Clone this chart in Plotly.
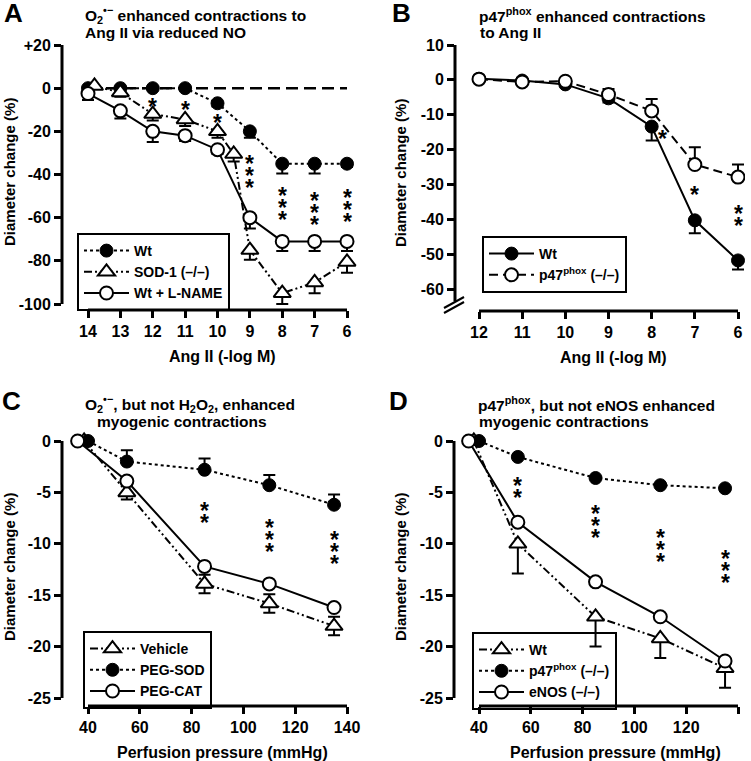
import plotly.graph_objects as go

W, H = 751, 761
FONT = "Liberation Sans, Arial, sans-serif"

# ---------------- data ----------------
# A: Ang II dose response, Wt / SOD-1 (-/-) / Wt + L-NAME
a_x = [14, 13, 12, 11, 10, 9, 8, 7, 6]
a_wt = [0, 0, 0, 0, -7, -20, -35, -35, -35]
a_wt_err = [0, 0, 0, 0, 1.5, 3, 4.5, 4.5, 1.5]
a_sod_x = [13.8, 13, 12, 11, 10, 9.5, 9, 8, 7, 6]
a_sod = [1, -2, -12, -14.5, -20, -30.5, -75, -95, -90, -80.5]
a_sod_err = [0, 2, 3, 3, 3, 3.5, 4.5, 5, 5, 5]
a_lname = [-2.5, -10.5, -20, -22, -28.5, -60, -71, -71, -71]
a_lname_err = [3, 3.5, 5, 2.5, 2, 5, 4.5, 4.5, 4.5]
a_star_x = [12, 11, 10, 9, 8, 7, 6]
a_star_y = [-6, -7.4, -13.3, -32.2, -47.4, -49.7, -48.3]
a_star_n = [1, 1, 1, 3, 3, 3, 3]
a_yticks = [20, 0, -20, -40, -60, -80, -100]
a_ytext = ["+20", "0", "-20", "-40", "-60", "-80", "-100"]

# B: Ang II dose response, Wt / p47phox (-/-)
b_x = [12, 11, 10, 9, 8, 7, 6]
b_wt = [0.3, -0.2, -1.3, -5.3, -13.4, -40.3, -51.8]
b_wt_err = [0, 0, 0, 1.2, 4, 3.7, 2.6]
b_p47 = [0.2, -0.6, -0.4, -4.2, -8.9, -24.3, -27.9]
b_p47_err = [0, 0.6, 0, 1.6, 3.4, 5, 3.6]
b_star_x = [7.75, 7, 6]
b_star_y = [-15.2, -31.3, -36.8]
b_star_n = [1, 1, 2]
b_yticks = [10, 0, -10, -20, -30, -40, -50, -60]
b_ytext = ["10", "0", "-10", "-20", "-30", "-40", "-50", "-60"]

# C: myogenic, Vehicle / PEG-SOD / PEG-CAT
c_veh_x = [38.5, 55, 85, 110, 135]
c_veh = [0, -5.0, -13.9, -15.8, -18.0]
c_veh_err = [0, 0.7, 0.9, 0.9, 0.9]
c_sod_x = [40, 55, 85, 110, 135]
c_sod = [0, -2.0, -2.8, -4.3, -6.2]
c_sod_err = [0, 1.1, 1.1, 1.0, 1.0]
c_cat_x = [36, 55, 85, 110, 135]
c_cat = [0, -3.9, -12.2, -13.9, -16.2]
c_star_x = [85, 110, 135]
c_star_y = [-6.2, -7.9, -9.0]
c_star_n = [2, 3, 3]

# D: myogenic, Wt / p47phox (-/-) / eNOS (-/-)
d_wt_x = [38, 55, 85, 110, 135]
d_wt = [0, -10.0, -17.1, -19.2, -22.1]
d_wt_err = [0, 2.9, 2.9, 1.9, 1.9]
d_p47_x = [40, 55, 85, 110, 135]
d_p47 = [0, -1.55, -3.6, -4.3, -4.6]
d_enos_x = [36, 55, 85, 110, 135]
d_enos = [0, -7.9, -13.7, -17.1, -21.4]
d_star_x = [55, 85, 110, 135]
d_star_y = [-3.8, -6.5, -8.9, -10.9]
d_star_n = [2, 3, 3, 3]

p_xticks = [40, 60, 80, 100, 120, 140]
p_yticks = [0, -5, -10, -15, -20, -25]
p_ytext = ["0", "-5", "-10", "-15", "-20", "-25"]


# ---------------- helpers ----------------
def fx(p):
    return p / W


def fy(p):
    return 1 - p / H


def lin(va, pa, vb, pb, p):
    return va + (p - pa) * (vb - va) / (pb - pa)


FILLED = dict(symbol="circle", size=13, color="black", line=dict(color="black", width=1))
OPEN = dict(symbol="circle", size=13, color="white", line=dict(color="black", width=2))
TRI = dict(symbol="triangle-up", size=15, color="white", line=dict(color="black", width=2))
DOT = "3px,3px"
DASH = "9px,5px"
DDOT = "8px,3px,2px,3px,2px,3px"

fig = go.Figure()


def series(x, y, name, legend, n, marker, dash, up=None, down=None):
    zeros = [0] * len(y)
    err = None
    if up or down:
        err = dict(type="data", symmetric=False, array=up or zeros,
                   arrayminus=down or zeros, color="black", thickness=2, width=6)
    fig.add_trace(go.Scatter(
        x=x, y=y, name=name, legend=legend, mode="lines+markers",
        xaxis="x" + n, yaxis="y" + n, marker=marker,
        line=dict(color="black", width=2, dash=dash), error_y=err))


def stars(xs, ys, ns, n):
    for x, y, k in zip(xs, ys, ns):
        for i in range(k):
            fig.add_annotation(x=x, y=y, xref="x" + n, yref="y" + n, text="*",
                               showarrow=False, font=dict(size=23),
                               yshift=-6 - 12 * i)


# A
series(a_x, a_wt, "Wt", "legend", "", FILLED, DOT, down=a_wt_err)
series(a_sod_x, a_sod, "SOD-1 (–/–)", "legend", "", TRI, DDOT, down=a_sod_err)
series(a_x, a_lname, "Wt + L-NAME", "legend", "", OPEN, "solid", down=a_lname_err)
stars(a_star_x, a_star_y, a_star_n, "")

# B
series(b_x, b_wt, "Wt", "legend2", "2", FILLED, "solid", down=b_wt_err)
series(b_x, b_p47, "p47<sup>phox</sup> (–/–)", "legend2", "2", OPEN, DASH, up=b_p47_err)
stars(b_star_x, b_star_y, b_star_n, "2")

# C
series(c_veh_x, c_veh, "Vehicle", "legend3", "3", TRI, DDOT, up=c_veh_err, down=c_veh_err)
series(c_sod_x, c_sod, "PEG-SOD", "legend3", "3", FILLED, DOT, up=c_sod_err)
series(c_cat_x, c_cat, "PEG-CAT", "legend3", "3", OPEN, "solid")
stars(c_star_x, c_star_y, c_star_n, "3")

# D
series(d_wt_x, d_wt, "Wt", "legend4", "4", TRI, DDOT, down=d_wt_err)
series(d_p47_x, d_p47, "p47<sup>phox</sup> (–/–)", "legend4", "4", FILLED, DOT)
series(d_enos_x, d_enos, "eNOS (–/–)", "legend4", "4", OPEN, "solid")
stars(d_star_x, d_star_y, d_star_n, "4")

# ---------------- axes ----------------
axis_common = dict(ticks="outside", ticklen=7, tickwidth=3, tickcolor="black",
                   showline=False, showgrid=False, zeroline=False, automargin=False,
                   tickfont=dict(size=16, color="black"))

# pixel frames: (x-left, x-right, y-top, y-bottom) and calibration points
panels = {
    "": dict(px=(62, 360), py=(38, 310), cx=(14, 88, 6, 347), cy=(20, 45, -100, 304),
             xt=a_x, yt=a_yticks, ytt=a_ytext),
    "2": dict(px=(455, 745), py=(38, 311), cx=(12, 479, 6, 738), cy=(10, 45, -60, 289),
              xt=b_x, yt=b_yticks, ytt=b_ytext),
    "3": dict(px=(62, 360), py=(430, 706), cx=(40, 88, 140, 347), cy=(0, 441, -25, 698),
              xt=p_xticks, yt=p_yticks, ytt=p_ytext),
    "4": dict(px=(454, 745), py=(430, 706), cx=(40, 479, 140, 738), cy=(0, 441, -25, 698),
              xt=p_xticks, yt=p_yticks, ytt=p_ytext),
}

layout_axes = {}
for n, p in panels.items():
    xr = [lin(*p["cx"], p["px"][0]), lin(*p["cx"], p["px"][1])]
    yr = [lin(*p["cy"], p["py"][1]), lin(*p["cy"], p["py"][0])]
    layout_axes["xaxis" + n] = dict(axis_common, domain=[fx(p["px"][0]), fx(p["px"][1])],
                                    range=xr, anchor="y" + n, tickvals=p["xt"])
    layout_axes["yaxis" + n] = dict(axis_common, domain=[fy(p["py"][1]), fy(p["py"][0])],
                                    range=yr, anchor="x" + n, tickvals=p["yt"],
                                    ticktext=p["ytt"])
    # axis lines spanning only the tick range
    fig.add_shape(type="line", xref="x" + n + " domain", yref="y" + n,
                  x0=0, x1=0, y0=p["yt"][0], y1=(-63.5 if n == "2" else p["yt"][-1]),
                  line=dict(color="black", width=3))
    fig.add_shape(type="line", xref="x" + n, yref="y" + n + " domain",
                  x0=p["xt"][0], x1=p["xt"][-1], y0=0, y1=0,
                  line=dict(color="black", width=3))

# zero reference line in A
fig.add_shape(type="line", xref="x", yref="y", x0=14, x1=6, y0=0, y1=0, layer="below",
              line=dict(color="black", width=2.5, dash="12px,6px"))

# axis break marks in B
for dy in (0, 5):
    fig.add_shape(type="line", xref="paper", yref="paper",
                  x0=fx(444), x1=fx(464), y0=fy(313 - dy), y1=fy(302 - dy),
                  line=dict(color="black", width=2))


# ---------------- text ----------------
def text(x, y, s, size=15.5, anchor="left", angle=0):
    fig.add_annotation(x=fx(x), y=fy(y), xref="paper", yref="paper", text=s,
                       showarrow=False, xanchor=anchor, yanchor="middle",
                       textangle=angle, font=dict(size=size))


text(2, 13, "A", 26)
text(390, 13, "B", 26)
text(0, 401, "C", 26)
text(387, 401, "D", 26)

text(83, 15, "O<sub>2</sub><sup>•−</sup> enhanced contractions to")
text(83, 33, "Ang II via reduced NO")
text(477, 15, "p47<sup>phox</sup> enhanced contractions")
text(478, 33, "to Ang II")
text(83, 404, "O<sub>2</sub><sup>•−</sup>, but not H<sub>2</sub>O<sub>2</sub>, enhanced")
text(95, 421, "myogenic contractions")
text(476, 404, "p47<sup>phox</sup>, but not eNOS enhanced")
text(477, 421, "myogenic contractions")

text(222, 356, "Ang II (-log M)", 16, anchor="center")
text(613, 357, "Ang II (-log M)", 16, anchor="center")
text(222, 752, "Perfusion pressure (mmHg)", 16, anchor="center")
text(615, 752, "Perfusion pressure (mmHg)", 16, anchor="center")
for x, y in [(9, 172), (400, 173), (9, 567), (400, 567)]:
    text(x, y, "Diameter change (%)", 15, anchor="center", angle=-90)

legend_common = dict(xanchor="left", yanchor="top", bordercolor="black", borderwidth=2,
                     bgcolor="rgba(255,255,255,0)", font=dict(size=14), itemwidth=45,
                     tracegroupgap=0)

fig.update_layout(
    width=W, height=H, margin=dict(l=0, r=0, t=0, b=0),
    paper_bgcolor="white", plot_bgcolor="white",
    font=dict(family=FONT, color="black", size=16, weight="bold"),
    showlegend=True,
    legend=dict(legend_common, x=fx(77), y=fy(233)),
    legend2=dict(legend_common, x=fx(482), y=fy(236)),
    legend3=dict(legend_common, x=fx(83), y=fy(631)),
    legend4=dict(legend_common, x=fx(472), y=fy(632)),
    **layout_axes,
)

# page body has a default 8px margin; drop it so the figure fills the window
fig.write_html("out.html", config={"displayModeBar": False},
               post_script="document.body.style.margin='0';")
